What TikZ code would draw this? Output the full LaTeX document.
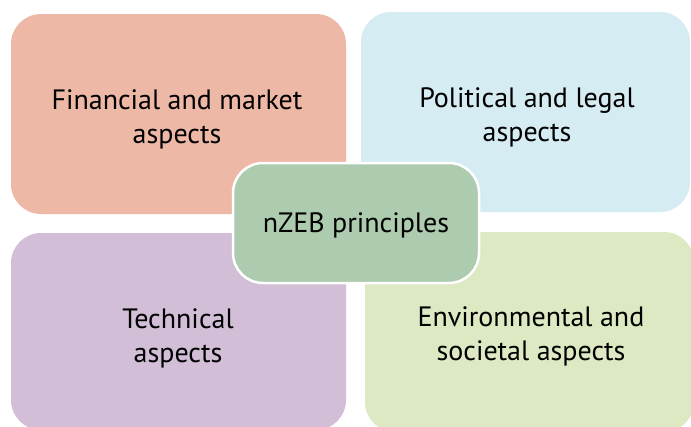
\documentclass[tikz,border=0pt]{standalone}
\usepackage{fontspec}
\setmainfont{PT Sans}
\definecolor{cfin}{HTML}{EEB8A6}
\definecolor{cpol}{HTML}{D5ECF2}
\definecolor{ctec}{HTML}{D2BFD7}
\definecolor{cenv}{HTML}{DCE9C2}
\definecolor{cmid}{HTML}{ADCBAE}
\tikzset{
  panel/.style={rounded corners=30pt, draw=none},
  hub/.style={rounded corners=30pt, draw=white, line width=2.5pt, fill=cmid},
  lbl/.style={align=center, font=\fontsize{28}{34}\selectfont, inner sep=0pt}
}
\begin{document}
\begin{tikzpicture}[x=1pt,y=-1pt]
\useasboundingbox[fill=white] (0,0) rectangle (691,426);
\fill[panel, cfin] (11,14) rectangle (346,214);
\fill[panel, cpol] (361,12) rectangle (690,212);
\fill[panel, ctec] (11,233) rectangle (346,430);
\fill[panel, cenv] (365,232) rectangle (694,432);
\node[lbl] (fin) at (177,119) {Financial and market\\aspects};
\node[lbl] (pol) at (527,117) {Political and legal\\aspects};
\node[lbl] (tec) at (178,338) {Technical\\aspects};
\node[lbl] (env) at (531,336) {Environmental and\\societal aspects};
\draw[hub] (233,163) rectangle (479,283);
\node[lbl] (hubtext) at (356,225) {nZEB principles};
\end{tikzpicture}
\end{document}
